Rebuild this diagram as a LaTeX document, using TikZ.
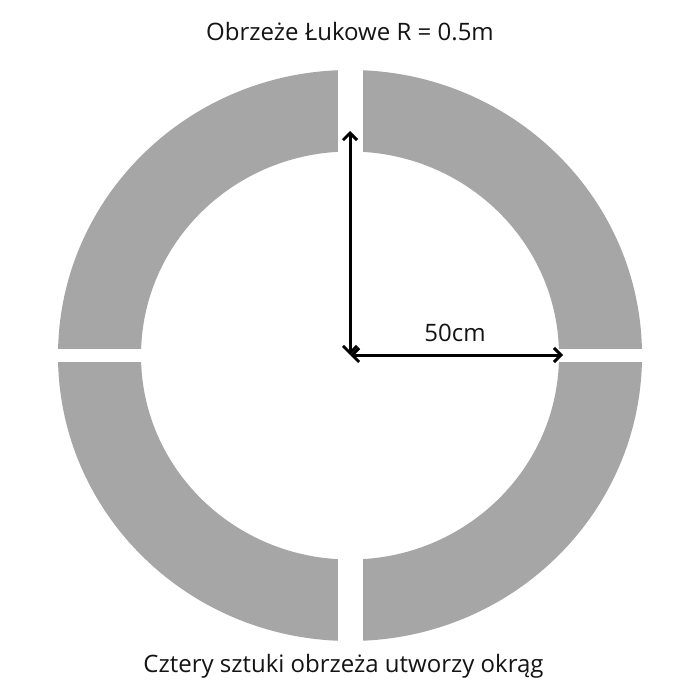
\documentclass[tikz,border=0pt]{standalone}
\usepackage{fontspec}
\setmainfont{Open Sans}
\usetikzlibrary{arrows.meta}
\definecolor{piece}{HTML}{A6A6A6}
\tikzset{
  dimarrow/.style={line width=3pt, {Straight Barb[length=7pt,width=14pt,line width=3pt]}-{Straight Barb[length=7pt,width=14pt,line width=3pt]}},
  label/.style={inner sep=0pt, font=\fontsize{24}{28}\selectfont, text=black!92}
}
\begin{document}
\begin{tikzpicture}[x=1pt,y=-1pt]
\useasboundingbox (0,0) rectangle (700,700);
\fill[white] (0,0) rectangle (700,700);
% ring
\fill[piece, even odd rule] (350,355.5) ellipse [x radius=292, y radius=285.5]
                            (350,355.5) ellipse [x radius=209, y radius=204];
% gaps between the four pieces
\fill[white] (338,40) rectangle (363,670);
\fill[white] (30,349) rectangle (670,362);
% dimension arrows
\coordinate (c) at (350,355);
\coordinate (top) at (350,131);
\coordinate (right) at (563,355);
\draw[dimarrow] (c) -- (top);
\draw[dimarrow] (c) -- (right);
\node[label] (dim) at (455,333) {50cm};
\node[label] (title) at (350,32) {Obrzeże Łukowe R = 0.5m};
\node[label] (caption) at (343.5,666) {Cztery sztuki obrzeża utworzy okrąg};
\end{tikzpicture}
\end{document}
